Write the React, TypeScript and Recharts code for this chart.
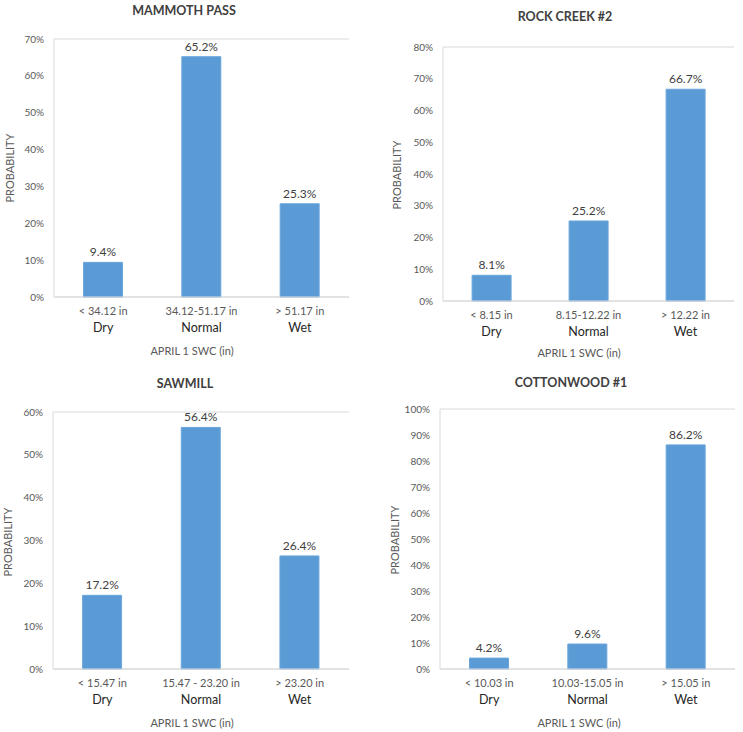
import React from 'react'
import { BarChart, Bar, XAxis, YAxis, CartesianGrid, LabelList } from 'recharts'

const classes = ['Dry', 'Normal', 'Wet']

const mammothRanges = ['< 34.12 in', '34.12-51.17 in', '> 51.17 in']
const mammothValues = [9.4, 65.2, 25.3]
const mammothTicks = [0, 10, 20, 30, 40, 50, 60, 70]

const rockRanges = ['< 8.15 in', '8.15-12.22 in', '> 12.22 in']
const rockValues = [8.1, 25.2, 66.7]
const rockTicks = [0, 10, 20, 30, 40, 50, 60, 70, 80]

const sawmillRanges = ['< 15.47 in', '15.47 - 23.20 in', '> 23.20 in']
const sawmillValues = [17.2, 56.4, 26.4]
const sawmillTicks = [0, 10, 20, 30, 40, 50, 60]

const cottonRanges = ['< 10.03 in', '10.03-15.05 in', '> 15.05 in']
const cottonValues = [4.2, 9.6, 86.2]
const cottonTicks = [0, 10, 20, 30, 40, 50, 60, 70, 80, 90, 100]

const FONT = 'Lato, "Open Sans", sans-serif'
const BLUE = '#5b9bd5'
const GRID = '#d9d9d9'

const build = (ranges: string[], values: number[]) =>
  ranges.map((r, i) => ({ range: r, cls: classes[i], value: values[i] }))

function CatTick(props: any) {
  const { x, y, payload, data } = props
  const row = data[payload.index]
  return (
    <g>
      <text x={x} y={y + 13} textAnchor="middle" dominantBaseline="central" fontSize={11} fill="#595959" fontFamily={FONT}>
        {row.range}
      </text>
      <text x={x} y={y + 30} textAnchor="middle" dominantBaseline="central" fontSize={12.5} fill="#262626" fontFamily={FONT}>
        {row.cls}
      </text>
    </g>
  )
}

type PanelProps = {
  title: string
  ranges: string[]
  values: number[]
  ticks: number[]
  left: number
  top: number
  width: number
  height: number
  plot: { l: number; r: number; t: number; b: number }
  titleAt: [number, number]
  yLabelAt: [number, number]
  xLabelAt: [number, number]
}

function Panel(p: PanelProps) {
  const data = build(p.ranges, p.values)
  const max = p.ticks[p.ticks.length - 1]
  const xAxisH = 40
  return (
    <div style={{ position: 'absolute', left: p.left, top: p.top, width: p.width, height: p.height, fontFamily: FONT }}>
      <div style={{ position: 'absolute', left: p.titleAt[0] - 100, top: p.titleAt[1] - 9, width: 200, textAlign: 'center', fontSize: 12.5, fontWeight: 700, color: '#404040', lineHeight: '18px' }}>
        {p.title}
      </div>
      <div style={{ position: 'absolute', left: p.yLabelAt[0] - 60, top: p.yLabelAt[1] - 8, width: 120, textAlign: 'center', fontSize: 11, color: '#595959', lineHeight: '16px', transform: 'rotate(-90deg)' }}>
        PROBABILITY
      </div>
      <div style={{ position: 'absolute', left: p.xLabelAt[0] - 100, top: p.xLabelAt[1] - 8, width: 200, textAlign: 'center', fontSize: 11, color: '#595959', lineHeight: '16px' }}>
        APRIL 1 SWC (in)
      </div>
      <BarChart
        width={p.width}
        height={p.height}
        data={data}
        barCategoryGap="30%"
        margin={{ top: p.plot.t, right: p.width - p.plot.r, left: 0, bottom: p.height - p.plot.b - xAxisH }}
      >
        <CartesianGrid vertical={false} stroke={GRID} />
        <XAxis
          dataKey="range"
          height={xAxisH}
          tickLine={false}
          tickSize={0}
          tickMargin={0}
          axisLine={{ stroke: GRID }}
          interval={0}
          tick={(tp: any) => <CatTick {...tp} data={data} />}
        />
        <YAxis
          yAxisId="l"
          width={p.plot.l}
          domain={[0, max]}
          ticks={p.ticks}
          tickFormatter={(v: number) => `${v}%`}
          tickLine={false}
          axisLine={{ stroke: GRID }}
          tickMargin={4}
          tick={{ fontSize: 10, fill: '#595959', fontFamily: FONT }}
        />
        <YAxis yAxisId="r" orientation="right" width={0} domain={[0, 1]} tick={false} tickLine={false} axisLine={{ stroke: GRID }} />
        <Bar yAxisId="l" dataKey="value" fill={BLUE} stroke="#6aa6dc" strokeWidth={1} isAnimationActive={false}>
          <LabelList
            dataKey="value"
            position="top"
            offset={6}
            formatter={(v: any) => `${v}%`}
            style={{ fontSize: 12, fill: '#404040', fontFamily: FONT }}
          />
        </Bar>
      </BarChart>
    </div>
  )
}

export default function App() {
  return (
    <div style={{ position: 'absolute', left: 0, top: 0, width: 743, height: 732, background: '#fff' }}>
      <Panel
        title="MAMMOTH PASS"
        ranges={mammothRanges}
        values={mammothValues}
        ticks={mammothTicks}
        left={0}
        top={0}
        width={372}
        height={366}
        plot={{ l: 54, r: 349, t: 39, b: 297 }}
        titleAt={[184, 11]}
        yLabelAt={[10, 168]}
        xLabelAt={[192, 351]}
      />
      <Panel
        title="ROCK CREEK #2"
        ranges={rockRanges}
        values={rockValues}
        ticks={rockTicks}
        left={372}
        top={0}
        width={371}
        height={366}
        plot={{ l: 71, r: 362, t: 47, b: 301 }}
        titleAt={[193, 17]}
        yLabelAt={[25, 175]}
        xLabelAt={[207, 353]}
      />
      <Panel
        title="SAWMILL"
        ranges={sawmillRanges}
        values={sawmillValues}
        ticks={sawmillTicks}
        left={0}
        top={370}
        width={372}
        height={362}
        plot={{ l: 53, r: 349, t: 42, b: 299 }}
        titleAt={[185, 14]}
        yLabelAt={[8, 172]}
        xLabelAt={[192, 353]}
      />
      <Panel
        title="COTTONWOOD #1"
        ranges={cottonRanges}
        values={cottonValues}
        ticks={cottonTicks}
        left={372}
        top={370}
        width={371}
        height={362}
        plot={{ l: 68, r: 363, t: 39, b: 299 }}
        titleAt={[199, 13]}
        yLabelAt={[23, 170]}
        xLabelAt={[207, 353]}
      />
    </div>
  )
}
